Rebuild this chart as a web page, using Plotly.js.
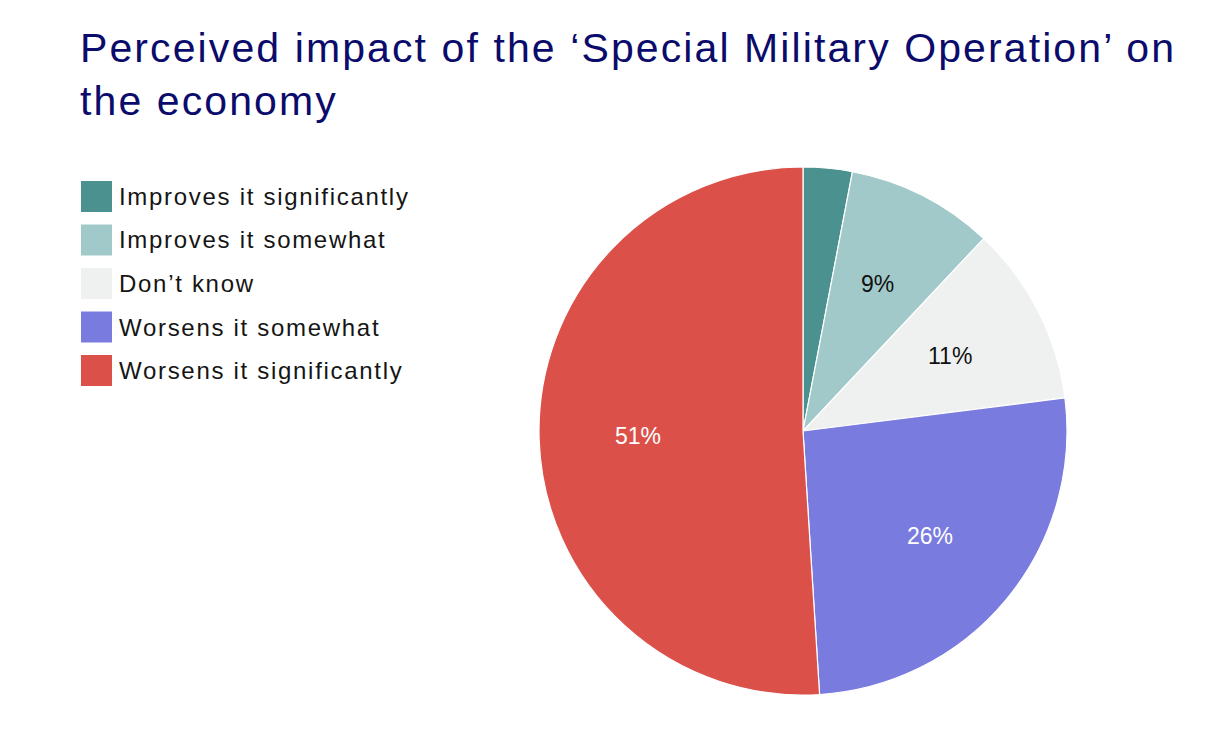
<!DOCTYPE html>
<html>
<head>
<meta charset="utf-8">
<script src="https://cdn.plot.ly/plotly-3.0.1.min.js"></script>
<style>
  html, body { margin: 0; padding: 0; background: #fff; }
  #chart { width: 1226px; height: 732px; }
  #chart .gtitle { letter-spacing: 2.1px; }
</style>
</head>
<body>
<div id="chart"></div>
<script>
var categories = ['Improves it significantly', 'Improves it somewhat', "Don\u2019t know", 'Worsens it somewhat', 'Worsens it significantly'];
var values = [3, 9, 11, 26, 51];
var colors = ['#4a918f', '#a2c9c9', '#eff1f0', '#7a7bdf', '#db514a'];
var labelColors = ['#111111', '#111111', '#111111', '#ffffff', '#ffffff'];
var showLabel = [false, true, true, true, true];

var W = 1226, H = 732;
var FONT = 'Liberation Sans, Arial, sans-serif';
function px(x) { return x / W; }
function py(y) { return 1 - y / H; }

// pie placement (pixels)
var cx = 803, cy = 431, R = 264, labelR = 165;

var trace = {
  type: 'pie',
  values: values,
  labels: categories,
  textinfo: 'none',
  sort: false,
  direction: 'clockwise',
  rotation: 0,
  marker: { colors: colors, line: { color: '#ffffff', width: 1.2 } },
  domain: { x: [px(cx - R), px(cx + R)], y: [py(cy + R), py(cy - R)] },
  hoverinfo: 'label+percent'
};

var shapes = [];
var annotations = [];

// slice labels at the middle angle of each slice
var total = values.reduce(function (a, b) { return a + b; }, 0);
var cum = 0;
for (var i = 0; i < values.length; i++) {
  var mid = (cum + values[i] / 2) / total * 2 * Math.PI;
  cum += values[i];
  if (!showLabel[i]) continue;
  annotations.push({
    xref: 'paper', yref: 'paper',
    x: px(cx + labelR * Math.sin(mid)), y: py(cy - labelR * Math.cos(mid)),
    xanchor: 'center', yanchor: 'middle', showarrow: false,
    text: values[i] + '%',
    font: { family: FONT, size: 23, color: labelColors[i] }
  });
}

// legend drawn as squares + labels
for (var j = 0; j < categories.length; j++) {
  var boxTop = 181 + j * 43.5;
  shapes.push({
    type: 'rect', xref: 'paper', yref: 'paper',
    x0: px(81), x1: px(112), y0: py(boxTop + 31), y1: py(boxTop),
    fillcolor: colors[j], line: { width: 0 }
  });
  annotations.push({
    xref: 'paper', yref: 'paper', x: px(117), y: py(boxTop + 15.5),
    xanchor: 'left', yanchor: 'middle', showarrow: false,
    text: '<span style="letter-spacing:1.7px">' + categories[j] + '</span>',
    font: { family: FONT, size: 24, color: '#151515' }
  });
}

var layout = {
  width: W,
  height: H,
  margin: { l: 0, r: 0, t: 0, b: 0 },
  paper_bgcolor: '#ffffff',
  showlegend: false,
  title: {
    text: 'Perceived impact of the \u2018Special Military Operation\u2019 on<br>the economy',
    font: { family: FONT, size: 41, color: '#0b0b6b' },
    xref: 'paper', x: px(80), xanchor: 'left',
    yref: 'container', y: 1 - 62 / H, yanchor: 'top'
  },
  shapes: shapes,
  annotations: annotations
};

Plotly.newPlot('chart', [trace], layout, { displayModeBar: false });
</script>
</body>
</html>
